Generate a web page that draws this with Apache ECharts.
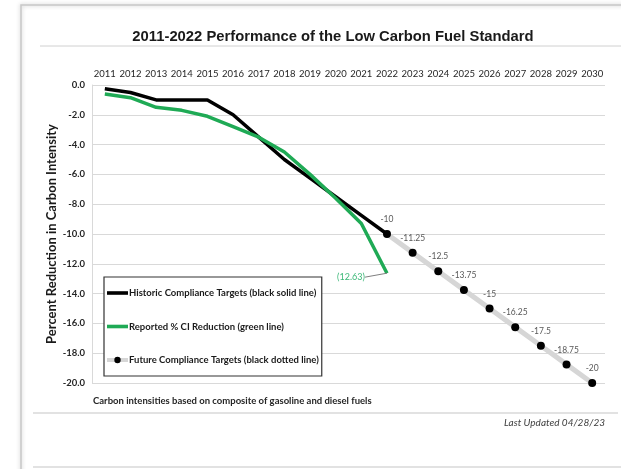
<!DOCTYPE html>
<html><head><meta charset="utf-8">
<script src="https://cdn.jsdelivr.net/npm/echarts@6/dist/echarts.min.js"></script>
<style>html,body{margin:0;padding:0;background:#fff}#c{width:621px;height:469px}</style>
</head><body><div id="c"></div>
<script>
const years = ['2011','2012','2013','2014','2015','2016','2017','2018','2019','2020','2021','2022','2023','2024','2025','2026','2027','2028','2029','2030'];
const historic = [-0.25,-0.5,-1.0,-1.0,-1.0,-2.0,-3.5,-5.0,-6.25,-7.5,-8.75,-10];
const reported = [-0.6,-0.85,-1.5,-1.7,-2.1,-2.8,-3.5,-4.5,-6.0,-7.6,-9.3,-12.63];
const futureYears = ['2022','2023','2024','2025','2026','2027','2028','2029','2030'];
const future = [-10,-11.25,-12.5,-13.75,-15,-16.25,-17.5,-18.75,-20];
const yTicks = {min:-20, max:0, interval:2};

const FONT = 'Lato';
const GREEN = '#1faa55';
const LINE_ICON = 'path://M0,0 M21,8 M0,2.2h21v3.6h-21z';
const futureData = years.map(y => { const i = futureYears.indexOf(y); return i >= 0 ? future[i] : null; });
const greenData = reported.map((v, i) => i === reported.length - 1 ? {
  value: v,
  label: {show: true, position: 'inside', formatter: '(' + Math.abs(v).toFixed(2) + ')', color: '#3cb878', fontSize: 9, fontFamily: FONT},
  labelLine: {show: true, lineStyle: {color: '#7f7f7f', width: 1}}
} : v);

const chart = echarts.init(document.getElementById('c'));
chart.setOption({
  animation: false,
  backgroundColor: '#fff',
  title: {
    text: '2011-2022 Performance of the Low Carbon Fuel Standard',
    left: 328, textAlign: 'center', top: 24,
    textStyle: {fontFamily: 'Liberation Sans', fontWeight: 'bold', fontSize: 14.8, color: '#1a1a1a'}
  },
  graphic: [
    {type: 'rect', shape: {x: 21, y: 5, width: 640, height: 520}, style: {fill: 'none', stroke: '#c8c8c8', lineWidth: 1.5, shadowBlur: 4, shadowColor: 'rgba(0,0,0,0.25)'}, z: -1},
    {type: 'line', shape: {x1: 40, y1: 46, x2: 621, y2: 46}, style: {stroke: '#d0d0d0', lineWidth: 1}},
    {type: 'line', shape: {x1: 33, y1: 413, x2: 618, y2: 413}, style: {stroke: '#d9d9d9', lineWidth: 1.5}},
    {type: 'line', shape: {x1: 33, y1: 467, x2: 621, y2: 467}, style: {stroke: '#d9d9d9', lineWidth: 1.5}},
    {type: 'text', left: 93, top: 396, style: {text: 'Carbon intensities based on composite of gasoline and diesel fuels', fontFamily: FONT, fontWeight: 'bold', fontSize: 9.5, fill: '#262626'}},
    {type: 'text', right: 16, top: 418, style: {text: 'Last Updated 04/28/23', fontFamily: FONT, fontStyle: 'italic', fontSize: 10, fill: '#404040'}}
  ],
  legend: {
    orient: 'vertical', left: 104, top: 277,
    padding: [11, 3, 11, 1], itemGap: 23.5, itemWidth: 21, itemHeight: 8,
    backgroundColor: '#fff', borderColor: '#333', borderWidth: 1.2,
    textStyle: {fontFamily: FONT, fontWeight: 'bold', fontSize: 9.5, color: '#1a1a1a', padding: [0, 0, 0, -4]},
    data: [
      {name: 'Historic Compliance Targets (black solid line)', icon: LINE_ICON},
      {name: 'Reported % CI Reduction (green line)', icon: LINE_ICON, itemStyle: {color: GREEN, opacity: 1}},
      {name: 'Future Compliance Targets (black dotted line)', lineStyle: {width: 4, color: '#d6d6d6'}}
    ]
  },
  grid: {left: 92, right: 16, top: 85, bottom: 86},
  xAxis: {
    type: 'category', data: years, position: 'top', boundaryGap: true,
    axisLine: {show: false}, axisTick: {show: false},
    axisLabel: {margin: 6, fontFamily: FONT, fontSize: 9.5, color: '#262626', interval: 0}
  },
  yAxis: {
    type: 'value', min: yTicks.min, max: yTicks.max, interval: yTicks.interval,
    axisLine: {show: true, lineStyle: {color: '#d9d9d9'}}, axisTick: {show: false},
    splitLine: {lineStyle: {color: '#d9d9d9', width: 1.2}},
    axisLabel: {margin: 7, fontFamily: FONT, fontWeight: 'bold', fontSize: 9.5, color: '#262626', formatter: v => v.toFixed(1)},
    name: 'Percent Reduction in Carbon Intensity', nameLocation: 'middle', nameGap: 34, nameRotate: 90,
    nameMoveOverlap: false,
    nameTextStyle: {fontFamily: FONT, fontWeight: 'bold', fontSize: 13, color: '#1a1a1a'}
  },
  series: [
    {
      name: 'Future Compliance Targets (black dotted line)', type: 'line', data: futureData,
      symbol: 'circle', symbolSize: 8, showSymbol: true, z: 3,
      lineStyle: {color: '#d6d6d6', width: 5}, itemStyle: {color: '#000'},
      label: {show: true, position: 'top', distance: 6, fontFamily: FONT, fontSize: 8.5, color: '#595959'}
    },
    {
      name: 'Historic Compliance Targets (black solid line)', type: 'line', data: historic,
      symbol: 'none', z: 2, lineStyle: {color: '#000', width: 3.5}, itemStyle: {color: '#000'}
    },
    {
      name: 'Reported % CI Reduction (green line)', type: 'line', data: greenData,
      symbol: 'circle', symbolSize: 0.01, showSymbol: true, z: 4,
      lineStyle: {color: GREEN, width: 3.5}, itemStyle: {color: GREEN},
      labelLayout: p => (p.dataIndex === reported.length - 1 ? {dx: -36, dy: 4} : {})
    }
  ]
});
</script></body></html>
